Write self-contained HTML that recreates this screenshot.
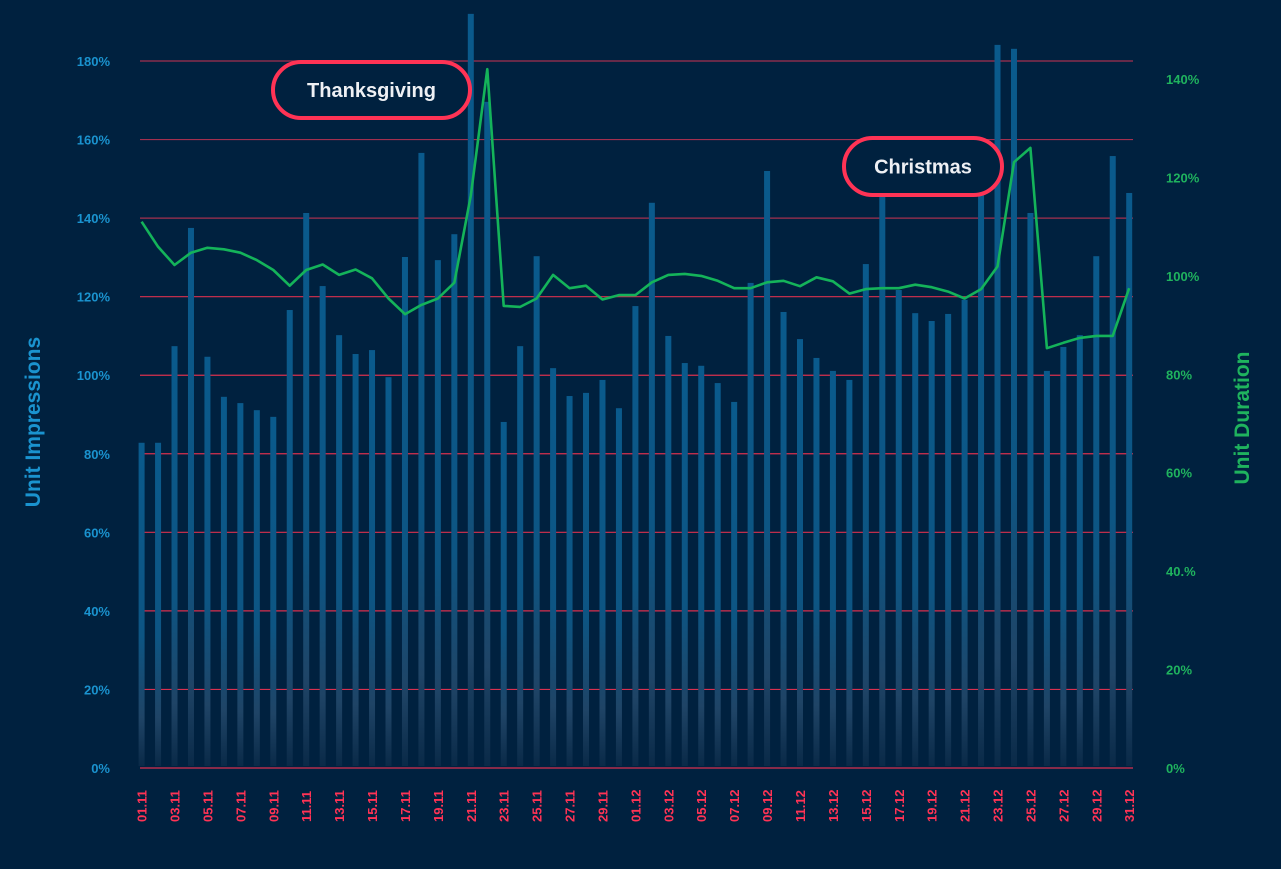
<!DOCTYPE html>
<html><head><meta charset="utf-8"><style>
html,body{margin:0;padding:0;background:#00213f;}
svg{display:block;font-family:"Liberation Sans",sans-serif;}
</style></head><body>
<svg id="chart" width="1281" height="869" viewBox="0 0 1281 869">
<defs>
<linearGradient id="barGrad" x1="0" y1="0" x2="0" y2="1" gradientUnits="objectBoundingBox">
<stop offset="0" stop-color="#0a5a8c"/>
<stop offset="0.6" stop-color="#0d5583"/>
<stop offset="0.85" stop-color="#1f4466"/>
<stop offset="1" stop-color="#0a2a48"/>
</linearGradient>
</defs>
<rect x="0" y="0" width="1281" height="869" fill="#00213f"/>
<g id="grid"></g><g id="bars"></g><g id="line"></g><g id="axes"></g><g id="notes"></g>
</svg>
<script>
const impressions=[82.8,82.8,107.4,137.5,104.7,94.5,92.9,91.1,89.4,116.6,141.3,122.7,110.2,105.4,106.4,99.5,130.1,156.6,129.3,135.9,192,169.6,88.1,107.4,130.3,101.8,94.7,95.5,98.8,91.6,117.6,143.9,110.0,103.1,102.4,98.0,93.2,123.5,152.0,116.1,109.2,104.4,101.1,98.8,128.3,145.5,121.7,115.8,113.8,115.6,119.2,150,184.1,183.1,141.3,101.1,107.2,110.2,130.3,155.8,146.4];
const duration=[111.0,105.9,102.2,104.7,105.7,105.4,104.7,103.2,101.2,98.0,101.2,102.3,100.2,101.3,99.5,95.4,92.2,94.1,95.4,98.6,116.3,142.0,93.9,93.7,95.4,100.2,97.5,98.0,95.2,96.1,96.1,98.7,100.2,100.4,100.0,99.0,97.5,97.5,98.7,99.0,97.9,99.7,98.9,96.4,97.3,97.5,97.5,98.2,97.7,96.8,95.4,97.3,101.9,123.1,126.0,85.3,86.4,87.4,87.8,87.8,97.5];
const leftTicks=[0,20,40,60,80,100,120,140,160,180];
const rightTicks=[0,20,40,60,80,100,120,140];
const rightTickLabels=["0%","20%","40.%","60%","80%","100%","120%","140%"];
const categories=[];
for(let d=1;d<=30;d++)categories.push(String(d).padStart(2,'0')+'.11');
for(let d=1;d<=31;d++)categories.push(String(d).padStart(2,'0')+'.12');

const NS='http://www.w3.org/2000/svg';
function mk(t,a,p){const e=document.createElementNS(NS,t);for(const k in a)e.setAttribute(k,a[k]);p.appendChild(e);return e;}
const x0=141.6,dx=16.46;
const xs=i=>x0+i*dx;
const yL=v=>768-v/180*707;
const yR=v=>768-v/140*689;

const grid=document.getElementById('grid');
leftTicks.forEach(v=>{
  const l=mk('line',{x1:140,x2:1133,y1:yL(v),y2:yL(v),stroke:v>=140?'#a3304f':'#d8304f','stroke-width':1.2},grid);
  
  
});
const bars=document.getElementById('bars');
impressions.forEach((v,i)=>{
  const b=mk('rect',{x:xs(i)-3,y:yL(v),width:6,height:766-yL(v),fill:'url(#barGrad)'},bars);
  
  
});
const pts=duration.map((v,i)=>xs(i).toFixed(1)+','+yR(v).toFixed(1)).join(' ');
const pl=mk('polyline',{points:pts,fill:'none',stroke:'#14b35a','stroke-width':2.6,'stroke-linejoin':'round'},document.getElementById('line'));



const ax=document.getElementById('axes');
leftTicks.forEach(v=>{
  const t=mk('text',{x:110,y:yL(v)+5,'text-anchor':'end','font-size':13,'font-weight':'bold',fill:'#1a93cf'},ax);
  t.textContent=v+'%';
  
  
});
rightTicks.forEach((v,i)=>{
  const t=mk('text',{x:1166,y:yR(v)+5,'font-size':13,'font-weight':'bold',fill:'#1fb35e'},ax);
  t.textContent=rightTickLabels[i];
  
  
});
categories.forEach((c,i)=>{
  if(i%2)return;
  const x=xs(i)+5,y=822;
  const t=mk('text',{x:x,y:y,transform:'rotate(-90 '+x+' '+y+')','font-size':13,'font-weight':'bold',fill:'#ff3355'},ax);
  t.textContent=c;
  
  
});
const lt=mk('text',{x:0,y:0,transform:'translate(40 422) rotate(-90)','text-anchor':'middle','font-size':21,'font-weight':'bold',fill:'#1a93cf'},ax);
lt.textContent='Unit Impressions';


const rt=mk('text',{x:0,y:0,transform:'translate(1249 418) rotate(-90)','text-anchor':'middle','font-size':21,'font-weight':'bold',fill:'#1fb35e'},ax);
rt.textContent='Unit Duration';



const notes=document.getElementById('notes');
[[273,62,197,56,'Thanksgiving','thanksgiving'],[844,138,158,57,'Christmas','christmas']].forEach(n=>{
  const r=mk('rect',{x:n[0],y:n[1],width:n[2],height:n[3],rx:n[3]/2,fill:'#00213f',stroke:'#ff3355','stroke-width':4},notes);
  
  
  const t=mk('text',{x:n[0]+n[2]/2,y:n[1]+n[3]/2+7,'text-anchor':'middle','font-size':20,'font-weight':'bold',fill:'#eef0f4'},notes);
  t.textContent=n[4];
  
  
});
</script>
</body></html>
